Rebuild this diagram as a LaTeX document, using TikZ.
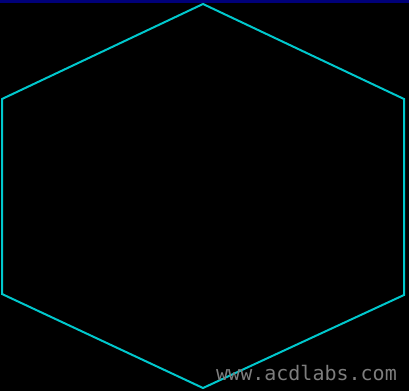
\documentclass[tikz,border=0pt]{standalone}
\usepackage{fontspec}
\newfontfamily\webfont{DejaVu Sans Mono}
\usetikzlibrary{positioning}
\definecolor{ringCyan}{RGB}{0,200,205}
\definecolor{bandNavy}{RGB}{0,0,120}
\definecolor{markGray}{RGB}{125,125,125}
\tikzset{
  ringedge/.style={draw=ringCyan, line width=2pt, line join=miter},
  siteurl/.style={anchor=base west, inner sep=0pt, text=markGray,
                  font=\webfont\fontsize{20}{20}\selectfont},
}

\begin{document}
\begin{tikzpicture}[x=1pt, y=-1pt]
    %% Background and top band
    \fill[black] (0,0) rectangle (409,391);
    \useasboundingbox (0,0) rectangle (409,391);
    \fill[bandNavy] (0,0) rectangle (409,3);
    %% Hexagon corners
    \foreach \n/\x/\y in {h1/203/4,h2/2/99,h3/2/294,h4/203/388,h5/404/295,h6/404/99}{
      \coordinate (\n) at (\x,\y);
    }
    %% Hexagon outline
    \draw[ringedge] (h1)--(h2)--(h3)--(h4)--(h5)--(h6)--cycle;
    %% Watermark
    \node[siteurl] (url) at (216,380) {www.acdlabs.com};
  \end{tikzpicture}
\end{document}
